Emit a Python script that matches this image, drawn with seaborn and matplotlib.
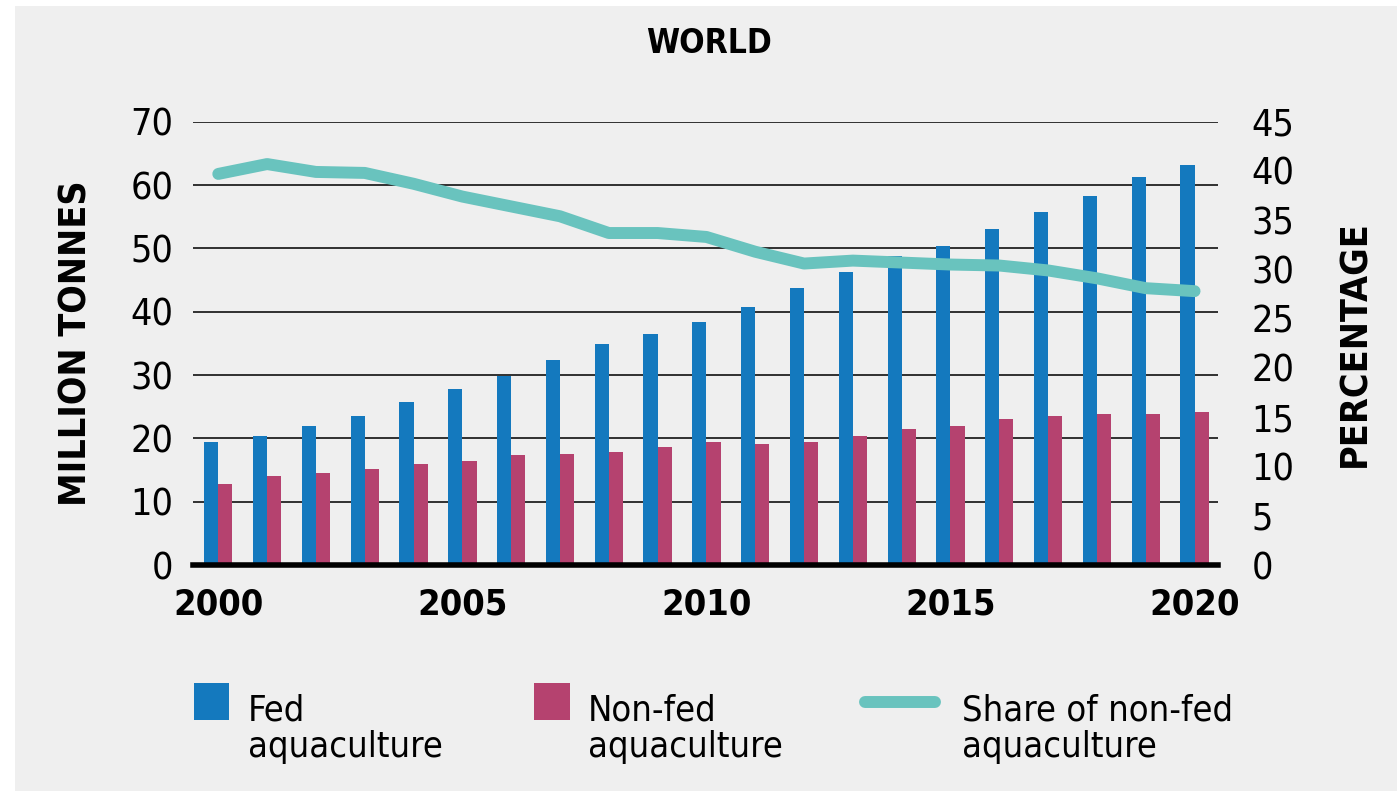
import numpy as np
import pandas as pd
import matplotlib
matplotlib.use("Agg")
import matplotlib.pyplot as plt
import seaborn as sns
from matplotlib.patches import Rectangle
from matplotlib.lines import Line2D

# values
years = list(range(2000, 2021))
fed = [19.4, 20.4, 22.0, 23.6, 25.7, 27.8, 29.9, 32.3, 34.9, 36.5, 38.3,
       40.7, 43.8, 46.2, 48.8, 50.4, 53.1, 55.7, 58.3, 61.2, 63.1]
non_fed = [12.8, 14.1, 14.6, 15.2, 15.9, 16.5, 17.3, 17.5, 17.8, 18.6, 19.4,
           19.1, 19.4, 20.4, 21.5, 22.0, 23.1, 23.6, 23.8, 23.8, 24.1]
share_non_fed = [39.7, 40.7, 39.9, 39.8, 38.7, 37.4, 36.4, 35.4, 33.7, 33.7, 33.3,
                 31.8, 30.6, 30.9, 30.7, 30.5, 30.4, 29.9, 29.1, 28.1, 27.8]
tick_years = [2000, 2005, 2010, 2015, 2020]

FED_C = "#1479be"
NONFED_C = "#b5426f"
SHARE_C = "#69c3be"
BG = "#efefef"

sns.set_style("white")
plt.rcParams["font.family"] = ["DejaVu Sans"]
plt.rcParams["font.stretch"] = "condensed"
plt.rcParams["text.color"] = "black"
plt.rcParams["axes.labelcolor"] = "black"
plt.rcParams["xtick.color"] = "black"
plt.rcParams["ytick.color"] = "black"

df = pd.DataFrame({
    "year": years * 2,
    "value": fed + non_fed,
    "type": ["Fed aquaculture"] * len(years) + ["Non-fed aquaculture"] * len(years),
})

W, H = 1400, 791
fig = plt.figure(figsize=(14, 7.91), dpi=100, facecolor="white")
fig.patches.append(Rectangle((15 / W, 0), (1397 - 15) / W, 1 - 6 / H,
                             transform=fig.transFigure, facecolor=BG,
                             edgecolor="none", zorder=-10))

ax = fig.add_axes([193 / W, 1 - 565 / H, (1218 - 193) / W, (565 - 121.7) / H])
ax.set_facecolor(BG)

sns.barplot(data=df, x="year", y="value", hue="type",
            palette=[FED_C, NONFED_C], width=0.58, saturation=1,
            legend=False, ax=ax, zorder=3, edgecolor="none")

ax.set_xlim(-0.518, len(years) - 1 + 0.48)
ax.set_ylim(0, 70)
ax.set_yticks(range(0, 71, 10))
ax.yaxis.grid(True, color="#222222", linewidth=1.3)
ax.set_axisbelow(True)
for s in ["top", "right", "left"]:
    ax.spines[s].set_visible(False)
ax.spines["bottom"].set_linewidth(4)
ax.spines["bottom"].set_color("black")
ax.spines["bottom"].set_zorder(5)

ax.set_xticks([years.index(y) for y in tick_years])
ax.set_xticklabels([str(y) for y in tick_years], fontsize=26, fontweight="bold")
ax.tick_params(axis="x", length=0, pad=16)
ax.tick_params(axis="y", length=0, pad=14, labelsize=27)
ax.set_xlabel("")
ax.set_ylabel("MILLION TONNES", fontsize=27, fontweight="bold", labelpad=26)

ax2 = ax.twinx()
ax2.plot(np.arange(len(years)), share_non_fed, color=SHARE_C, linewidth=8.6,
         solid_capstyle="round", solid_joinstyle="round", zorder=4)
ax2.set_ylim(0, 45)
ax2.set_yticks(range(0, 46, 5))
ax2.tick_params(axis="y", length=0, pad=24, labelsize=27)
for s in ax2.spines.values():
    s.set_visible(False)
ax2.set_ylabel("PERCENTAGE", fontsize=27, fontweight="bold", labelpad=31)
ax2.grid(False)

fig.text(709 / W, 1 - 52.7 / H, "WORLD", ha="center", va="baseline",
         fontsize=24, fontweight="bold")

# legend
fig.patches.append(Rectangle((193.5 / W, 1 - 720 / H), 35.5 / W, 37 / H,
                             transform=fig.transFigure, facecolor=FED_C, edgecolor="none"))
fig.patches.append(Rectangle((534 / W, 1 - 720 / H), 35.5 / W, 37 / H,
                             transform=fig.transFigure, facecolor=NONFED_C, edgecolor="none"))
fig.lines.append(Line2D([864.5 / W, 935 / W], [1 - 702 / H, 1 - 702 / H],
                        transform=fig.transFigure, color=SHARE_C, linewidth=8.6,
                        solid_capstyle="round"))
for x, label in [(248, "Fed\naquaculture"), (588, "Non-fed\naquaculture"),
                 (962, "Share of non-fed\naquaculture")]:
    fig.text(x / W, 1 - 757 / H, label, ha="left", va="baseline",
             fontsize=26, linespacing=1.1)

fig.savefig("out.png", dpi=100, facecolor="white")
